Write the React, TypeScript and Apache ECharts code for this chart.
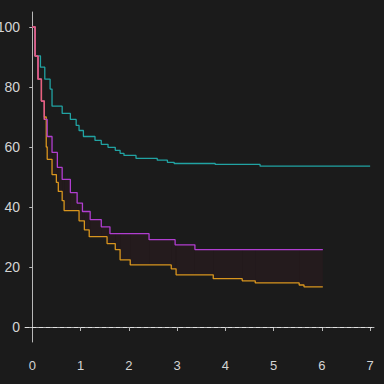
import React, { useEffect, useRef } from "react";
import * as echarts from "echarts";

// Kaplan–Meier style curves: [time, survival %]
const tealCurve: [number, number][] = [
  [0, 100], [0.05, 90.4], [0.17, 86.6], [0.26, 82.6], [0.37, 79.3], [0.41, 73.6],
  [0.62, 71.2], [0.79, 69.2], [0.91, 67.2], [0.97, 65.5], [1.06, 63.5], [1.3, 62.2],
  [1.43, 60.9], [1.57, 59.9], [1.72, 58.9], [1.82, 57.9], [1.9, 57.2], [2.15, 56.2],
  [2.59, 55.6], [2.8, 54.9], [2.94, 54.5], [3.79, 54.2], [4.72, 53.6], [7.0, 53.6],
];
const purpleCurve: [number, number][] = [
  [0, 100], [0.06, 90.3], [0.12, 82.6], [0.19, 75.3], [0.25, 69.2], [0.31, 63.5],
  [0.41, 58.2], [0.52, 53.2], [0.62, 49.2], [0.79, 44.8], [0.93, 41.3], [1.04, 38.5],
  [1.2, 35.8], [1.43, 33.4], [1.61, 31.1], [2.42, 29.1], [2.96, 27.4], [3.37, 25.8],
  [6.02, 25.8],
];
const orangeCurve: [number, number][] = [
  [0, 100], [0.06, 90.3], [0.12, 82.6], [0.19, 75.3], [0.25, 70.0], [0.29, 60.0],
  [0.31, 55.9], [0.41, 50.8], [0.5, 48.2], [0.54, 45.2], [0.62, 42.1], [0.66, 38.8],
  [0.97, 35.4], [1.08, 32.4], [1.18, 30.1], [1.55, 27.8], [1.72, 25.8], [1.82, 22.4],
  [2.03, 20.7], [2.88, 19.4], [2.98, 17.4], [3.75, 16.1], [4.35, 15.4], [4.62, 14.7],
  [5.53, 14.0], [5.63, 13.4], [6.02, 13.4],
];
const pinkCurve: [number, number][] = [
  [0, 100], [0.06, 90.3], [0.12, 82.6], [0.19, 75.3], [0.25, 69.2], [0.27, 69.2],
];
const xTicks = [0, 1, 2, 3, 4, 5, 6, 7];
const yTicks = [0, 20, 40, 60, 80, 100];

function stepValue(curve: [number, number][], t: number): number {
  let v = curve[0][1];
  for (const [x, y] of curve) {
    if (x <= t) v = y;
  }
  return v;
}

export default function App() {
  const ref = useRef<HTMLDivElement>(null);
  useEffect(() => {
    if (!ref.current) return;
    const chart = echarts.init(ref.current, undefined, { renderer: "svg" });
    const times = Array.from(
      new Set([...purpleCurve.map((p) => p[0]), ...orangeCurve.map((p) => p[0])])
    ).sort((a, b) => a - b);
    // band segments: [t0, t1, lower, upper]
    const band: number[][] = [];
    for (let i = 0; i < times.length - 1; i++) {
      band.push([times[i], times[i + 1], stepValue(orangeCurve, times[i]), stepValue(purpleCurve, times[i])]);
    }
    const font = "Liberation Sans";
    const lineSeries = (name: string, data: [number, number][], color: string) => ({
      name,
      type: "line",
      step: "end",
      data,
      showSymbol: false,
      symbol: "none",
      lineStyle: { color, width: 1.3 },
      z: 3,
    });
    chart.setOption({
      animation: false,
      backgroundColor: "#1b1b1b",
      grid: { left: 25, right: 10, top: 12, bottom: 42, containLabel: false, outerBoundsMode: "none" },
      xAxis: {
        type: "value",
        min: -0.15,
        max: 7.08,
        splitLine: { show: false },
        axisLine: { show: true, lineStyle: { color: "#b8b8b8", width: 1 } },
        axisTick: { show: true, length: 4, customValues: xTicks, lineStyle: { color: "#b8b8b8" } },
        axisLabel: {
          customValues: xTicks,
          color: "#d4d4d4",
          fontSize: 13,
          fontFamily: font,
          margin: 17,
        },
      },
      yAxis: {
        type: "value",
        min: -5,
        max: 105,
        splitLine: { show: false },
        axisLine: { show: true, lineStyle: { color: "#b8b8b8", width: 1 } },
        axisTick: { show: true, length: 3, customValues: yTicks, lineStyle: { color: "#b8b8b8" } },
        axisLabel: {
          customValues: yTicks,
          color: "#d4d4d4",
          fontSize: 14,
          fontFamily: font,
          margin: 5,
        },
      },
      series: [
        {
          name: "band",
          type: "custom",
          data: band,
          silent: true,
          z: 1,
          encode: { x: [0, 1], y: [2, 3] },
          renderItem: (params: any, api: any) => {
            const p0 = api.coord([api.value(0), api.value(3)]);
            const p1 = api.coord([api.value(1), api.value(2)]);
            return {
              type: "rect",
              shape: { x: p0[0], y: p0[1], width: p1[0] - p0[0], height: p1[1] - p0[1] },
              style: { fill: "rgba(150,30,50,0.07)" },
            };
          },
          markLine: {
            silent: true,
            symbol: "none",
            label: { show: false },
            lineStyle: { color: "#e0e0e0", type: [4, 3], width: 1 },
            data: [{ yAxis: 0 }],
          },
        },
        lineSeries("teal", tealCurve, "#21a3a3"),
        lineSeries("orange", orangeCurve, "#d8951e"),
        lineSeries("purple", purpleCurve, "#b03ed0"),
        lineSeries("pink", pinkCurve, "#e8607c"),
      ],
    });
    return () => chart.dispose();
  }, []);
  return (
    <div
      ref={ref}
      style={{ position: "fixed", left: 0, top: 0, width: 384, height: 384, background: "#1b1b1b" }}
    />
  );
}
